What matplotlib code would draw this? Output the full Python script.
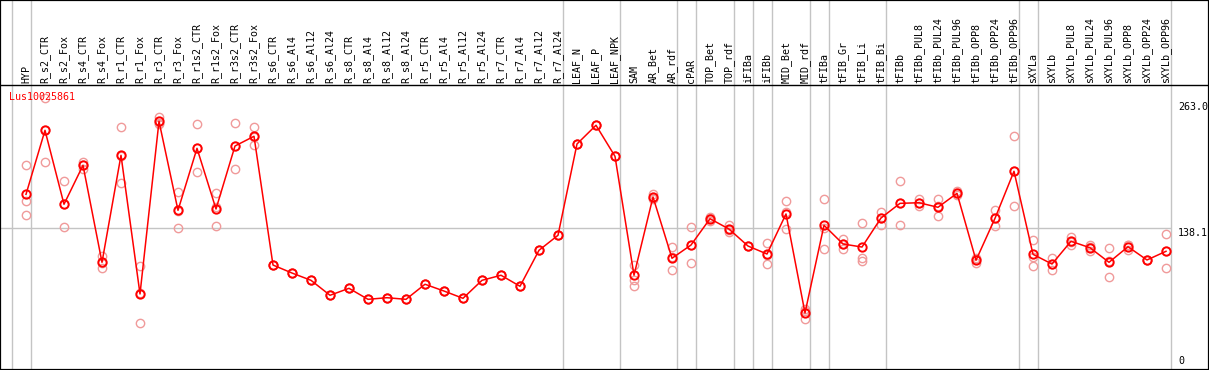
import matplotlib
matplotlib.use("Agg")
import matplotlib.pyplot as plt

# sample names along the x axis
samples = [
    "HYP", "R_s2_CTR", "R_s2_Fox", "R_s4_CTR", "R_s4_Fox", "R_r1_CTR", "R_r1_Fox",
    "R_r3_CTR", "R_r3_Fox", "R_r1s2_CTR", "R_r1s2_Fox", "R_r3s2_CTR", "R_r3s2_Fox",
    "R_s6_CTR", "R_s6_Al4", "R_s6_Al12", "R_s6_Al24", "R_s8_CTR", "R_s8_Al4",
    "R_s8_Al12", "R_s8_Al24", "R_r5_CTR", "R_r5_Al4", "R_r5_Al12", "R_r5_Al24",
    "R_r7_CTR", "R_r7_Al4", "R_r7_Al12", "R_r7_Al24", "LEAF_N", "LEAF_P", "LEAF_NPK",
    "SAM", "AR_Bet", "AR_rdf", "cPAR", "TOP_Bet", "TOP_rdf", "iFIBa", "iFIBb",
    "MID_Bet", "MID_rdf", "tFIBa", "tFIB_Gr", "tFIB_Li", "tFIB_Bi", "tFIBb",
    "tFIBb_PUL8", "tFIBb_PUL24", "tFIBb_PUL96", "tFIBb_OPP8", "tFIBb_OPP24",
    "tFIBb_OPP96", "sXYLa", "sXYLb", "sXYLb_PUL8", "sXYLb_PUL24", "sXYLb_PUL96",
    "sXYLb_OPP8", "sXYLb_OPP24", "sXYLb_OPP96",
]

# mean expression per sample
means = [
    171.7, 235.0, 161.9, 200.4, 104.5, 210.3, 73.2, 243.9, 155.9, 217.2, 157.2,
    219.5, 229.1, 101.8, 93.9, 86.7, 71.9, 78.8, 67.9, 69.5, 67.9, 82.8, 76.1,
    68.9, 86.7, 91.7, 80.8, 116.4, 131.2, 221.5, 240.0, 209.3, 91.7, 169.1,
    108.5, 121.6, 147.6, 137.4, 120.6, 112.7, 152.3, 54.4, 141.1, 122.6, 119.6,
    148.3, 162.8, 163.4, 158.9, 172.7, 106.5, 148.0, 194.5, 112.4, 102.8, 125.3,
    118.9, 104.5, 119.9, 106.8, 115.4,
]

# biological replicates
rep_a = [
    200.7, 266.7, 184.6, 203.7, 110.7, 238.3, 100.9, 248.5, 174.0, 241.0, 172.7,
    242.2, 238.3, 101.8, 93.9, 86.7, 71.9, 78.8, 67.9, 69.5, 67.9, 82.8, 76.1,
    68.9, 86.7, 91.7, 80.8, 116.4, 131.2, 221.5, 240.0, 209.3, 101.8, 172.0,
    119.6, 139.4, 149.3, 141.1, 120.6, 123.3, 164.8, 58.3, 167.1, 127.3, 143.1,
    154.5, 184.6, 166.8, 166.8, 174.7, 108.5, 155.9, 229.1, 126.6, 108.8, 129.8,
    121.3, 118.4, 121.6, 106.8, 132.2,
]
rep_b = [
    165.4, 203.4, 139.4, 196.5, 98.6, 182.6, 44.5, 241.9, 138.1, 193.5, 140.1,
    196.5, 220.2, 101.8, 93.9, 86.7, 71.9, 78.8, 67.9, 69.5, 67.9, 82.8, 76.1,
    68.9, 86.7, 91.7, 80.8, 116.4, 131.2, 221.5, 240.0, 209.3, 87.0, 167.1,
    96.6, 103.8, 145.3, 134.5, 120.6, 102.8, 137.7, 48.7, 117.4, 117.7, 108.8,
    141.7, 141.1, 160.2, 150.0, 170.8, 103.5, 140.1, 159.9, 101.1, 96.9, 121.6,
    115.4, 89.7, 116.7, 106.8, 98.6,
]
rep_c = [
    151.0, 235.0, 161.9, 200.9, 104.2, 210.0, 74.2, 241.3, 155.6, 217.1, 158.8,
    219.8, 228.8, 101.8, 93.9, 86.7, 71.9, 78.8, 67.9, 69.5, 67.9, 82.8, 76.1,
    68.9, 86.7, 91.7, 80.8, 116.4, 131.2, 221.5, 240.0, 209.3, 81.4, 168.2,
    109.3, 121.6, 148.2, 136.6, 120.6, 112.0, 154.4, 56.2, 138.8, 122.8, 105.5,
    148.7, 162.7, 163.2, 159.9, 172.6, 107.5, 148.0, 194.5, 109.5, 102.7, 124.5,
    120.0, 105.4, 121.4, 106.8, 115.4,
]

# last sample index of each tissue group (separator drawn after it)
group_ends = [-1, 0, 28, 31, 34, 35, 37, 38, 39, 41, 42, 45, 52, 53, 60]
gene = "Lus10025861"
y_marks = [263.0, 138.1, 0]

font = "DejaVu Sans Mono"
W, H = 1209, 370
fig = plt.figure(figsize=(W / 100, H / 100), dpi=100)
ax = fig.add_axes([0, 0, 1, 1])

# pixel <-> data mapping
x0, dx = 26, 19
y0, dy = 368, 1.0114
ax.set_xlim(-x0 / dx, (W - x0) / dx)
ax.set_ylim((y0 - H) / dy, y0 / dy)
ax.set_xticks([])
ax.set_yticks([])
for s in ax.spines.values():
    s.set_color("black")
    s.set_linewidth(1.6)

header = (y0 - 85) / dy
ax.axhline(header, color="black", lw=1.0)

for g in group_ends:
    ax.axvline(g + 0.25, color="#c4c4c4", lw=1.0, zorder=1)
ax.hlines(138.1, -x0 / dx, 60.25, color="#c4c4c4", lw=1.0, zorder=1)

xs = list(range(len(samples)))
for reps in (rep_a, rep_b, rep_c):
    ax.plot(xs, reps, "o", mfc="none", mec="#f09a9a", ms=6, mew=1.0, zorder=2)
ax.plot(xs, means, "-o", color="red", mfc="none", mec="red", ms=6, mew=1.4,
        lw=1.1, zorder=3)

for i, name in enumerate(samples):
    ax.text(i, header + 1.6, name, rotation=90, ha="center", va="bottom",
            fontsize=7.2, family=font, color="black")

ax.text(-17 / dx, (y0 - 97.5) / dy, gene, ha="left", va="center",
        fontsize=7.2, family=font, color="red")

for v in y_marks:
    ax.text((1178 - x0) / dx, v if v > 0 else 1.5, f"{v:.1f}" if v > 0 else "0",
            ha="left", va="top" if v > 0 else "bottom",
            fontsize=7.2, family=font, color="black")

fig.savefig("out.png", dpi=100)
